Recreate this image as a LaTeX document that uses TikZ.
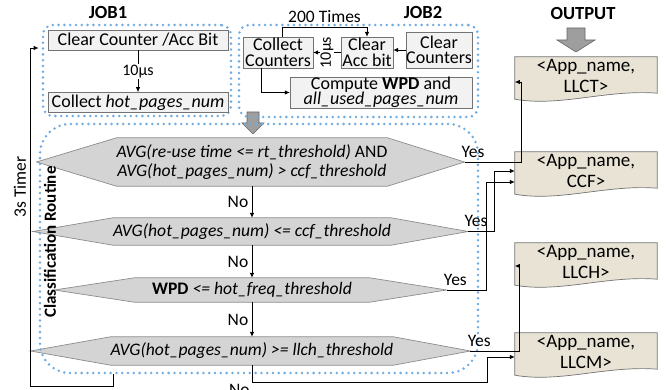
\documentclass[tikz,border=0pt]{standalone}
\usepackage{fontspec}
\setmainfont{Carlito}
\usetikzlibrary{positioning}
\usetikzlibrary{arrows.meta}
\usetikzlibrary{calc}
\usetikzlibrary{backgrounds}

\definecolor{jobblue}{RGB}{112,172,226}
\definecolor{boxgray}{RGB}{242,242,242}
\definecolor{decgray}{RGB}{212,212,212}
\definecolor{outtan}{RGB}{232,227,213}
\definecolor{blockgray}{RGB}{158,158,158}

\begin{document}
\begin{tikzpicture}[x=1pt, y=1pt,
  font=\fontsize{17.5}{17.5}\selectfont,
  box/.style={draw=black!55, fill=boxgray, align=center, inner sep=0pt, font=\fontsize{18}{15.5}\selectfont},
  decision/.style={align=center, inner sep=0pt, minimum width=235pt, font=\fontsize{17.6}{19.5}\selectfont\itshape},
  decshape/.style={draw=black!45, fill=decgray, line width=0.7pt},
  outbox/.style={align=center, inner sep=0pt, minimum width=142pt, font=\fontsize{19}{21}\selectfont},
  outshape/.style={draw=black!55, fill=outtan, line width=0.7pt},
  title/.style={font=\fontsize{18.5}{18.5}\selectfont\bfseries},
  frame/.style={draw=jobblue, line width=2.8pt, dash pattern=on 0pt off 5.8pt, line cap=round, rounded corners=10pt},
  arrow/.style={-{Latex[length=5pt,width=4.5pt]}, line width=0.8pt},
  blockarrow/.style={draw=black!60, fill=blockgray, line width=0.6pt},
  small/.style={font=\fontsize{16}{16}\selectfont}
]
\useasboundingbox (0,0) rectangle (670,-390);

% Block arrows
\draw[blockarrow] (247,-112) -- (259,-112) -- (259,-123) -- (264,-123) -- (253,-134) -- (242,-123) -- (247,-123) -- cycle;
\draw[blockarrow] (567,-28) -- (585,-28) -- (585,-40) -- (595,-40) -- (576,-52) -- (557,-40) -- (567,-40) -- cycle;

% Frames
\node[frame, minimum width=188pt, minimum height=91pt] (job1box) at (137,-70.5) {};
\node[frame, minimum width=239pt, minimum height=92pt] (job2box) at (358.5,-71) {};
\node[frame, rounded corners=30pt, minimum width=438pt, minimum height=249pt] (class) at (259,-248.5) {};

% Titles
\node[title] (job1) at (108,-13) {JOB1};
\node[title] (job2) at (423,-13) {JOB2};
\node[title] (output) at (583,-14) {OUTPUT};
\node[rotate=90, font=\fontsize{17}{17}\selectfont\bfseries] (classlbl) at (50,-242) {Classification Routine};
\node[rotate=90] (timerlbl) at (20,-187) {3s Timer};

% JOB1
\node[box, minimum width=180pt, minimum height=20pt] (clear) at (138,-40) {Clear Counter /Acc Bit};
\node[box, minimum width=180pt, minimum height=20pt, below=42pt of clear] (collect) {Collect \textit{hot\_pages\_num}};

% JOB2
\node[box, minimum width=70pt, minimum height=31pt] (collcnt) at (278,-52.5) {Collect\\Counters};
\node[box, minimum width=52pt, minimum height=31pt] (clracc) at (367,-52.5) {Clear\\Acc bit};
\node[box, minimum width=66pt, minimum height=36pt] (clrcnt) at (439,-50) {Clear\\Counters};
\node[box, minimum width=182pt, minimum height=31pt] (wpd) at (381,-92.5) {Compute \textbf{WPD} and\\\textit{all\_used\_pages\_num}};

% Decisions
\node[decision, minimum height=48pt] (d1) at (252,-162) {AVG(re-use time <= rt\_threshold) \textup{AND}\\AVG(hot\_pages\_num) > ccf\_threshold};
\node[decision, minimum height=27pt] (d2) at (252,-231.5) {AVG(hot\_pages\_num) <= ccf\_threshold};
\node[decision, minimum height=24pt] (d3) at (252,-290) {\textup{\textbf{WPD}} <= hot\_freq\_threshold};
\node[decision, minimum height=28pt] (d4) at (252,-351) {AVG(hot\_pages\_num) >= llch\_threshold};

% Outputs
\node[outbox, minimum height=38pt] (llct) at (586,-76) {<App\_name,\\LLCT>};
\node[outbox, minimum height=38pt] (ccf) at (586,-171) {<App\_name,\\CCF>};
\node[outbox, minimum height=38pt] (llch) at (586,-262) {<App\_name,\\LLCH>};
\node[outbox, minimum height=38pt] (llcm) at (586,-352) {<App\_name,\\LLCM>};

\begin{scope}[on background layer]
\foreach \d in {d1,d2,d3,d4}
  \draw[decshape] (\d.north west) -- (\d.north east) -- ([xshift=77pt]\d.east) -- (\d.south east) -- (\d.south west) -- ([xshift=-80pt]\d.west) -- cycle;
\foreach \o in {llct,ccf,llch,llcm}
  \draw[outshape] (\o.north west) -- (\o.north east) -- ([yshift=2pt]\o.south east) .. controls ([xshift=-50pt,yshift=6pt]\o.south east) and ([xshift=45pt,yshift=-12pt]\o.south west) .. ([yshift=-4pt]\o.south west) -- cycle;
\end{scope}

% Edges
\draw[arrow] (clear) -- node[small, fill=white, inner sep=1pt]{10µs} (collect);
\draw[arrow] (clrcnt.west) -- (clrcnt.west -| clracc.east);
\draw[arrow] (clracc) -- node[small, rotate=90, fill=white, inner sep=1pt]{10µs} (collcnt);
\draw[arrow] ([xshift=4pt]collcnt.north) -- ++(0,9) -| node[pos=0.25, above=1pt]{200 Times} (clracc.north);
\draw[arrow] ([xshift=-17pt]collcnt.south) |- (wpd.west);

\draw[arrow] (d1) -- node[left]{No} (d2);
\draw[arrow] (d2) -- node[left]{No} (d3);
\draw[arrow] (d3) -- node[left]{No} (d4);

\draw[arrow] ([xshift=77pt]d1.east) -- node[pos=0.15, above=1pt]{Yes} ++(56.5,0) |- ([yshift=-6pt]llct.west);
\draw[arrow] ([xshift=77pt]d2.east) -- node[pos=0.3, above=1pt]{Yes} ++(26.5,0) |- (ccf.west);
\draw[arrow] ([xshift=77pt]d3.east) -- node[pos=0.22, above=1pt]{Yes} ++(39.5,0) |- ([yshift=-11pt]ccf.west);
\draw[arrow] ([xshift=77pt]d4.east) -- node[pos=0.18, above=1pt]{Yes} ++(48.5,0) |- ([yshift=-4pt]llch.west);
\draw[arrow] (d4.south) -- node[pos=1, anchor=north east, inner sep=2pt]{No} ++(0,-17) -- ++(235,0) |- ([yshift=-5pt]llcm.west);

\draw[arrow] ([xshift=75pt]class.south west) -- ++(0,-12) -| ([xshift=-11pt,yshift=22.5pt]job1box.west) -- ([xshift=-3pt,yshift=22.5pt]job1box.west);

\end{tikzpicture}
\end{document}
